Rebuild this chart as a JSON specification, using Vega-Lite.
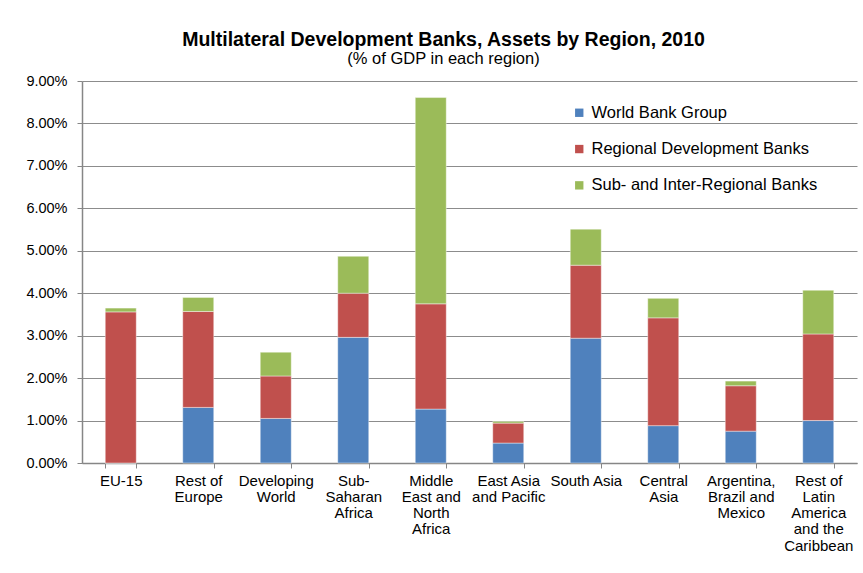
{
  "$schema": "https://vega.github.io/schema/vega-lite/v6.json",
  "autosize": "none",
  "width": 775,
  "height": 382,
  "padding": {"left": 82, "top": 81, "right": 6, "bottom": 110},
  "background": "white",
  "title": {
    "text": "Multilateral Development Banks, Assets by Region, 2010",
    "subtitle": "(% of GDP in each region)",
    "anchor": "middle",
    "dx": -26,
    "offset": 5,
    "font": "Liberation Sans",
    "fontSize": 19.5,
    "fontWeight": "bold",
    "color": "#000000",
    "subtitleFont": "Liberation Sans",
    "subtitleFontSize": 16.5,
    "subtitleColor": "#000000",
    "subtitlePadding": 0
  },
  "data": {
    "values": [
      {"region": "EU-15", "bank": "World Bank Group", "k": 1, "value": 0.0},
      {"region": "EU-15", "bank": "Regional Development Banks", "k": 2, "value": 0.0356},
      {"region": "EU-15", "bank": "Sub- and Inter-Regional Banks", "k": 3, "value": 0.0009},
      {"region": "Rest of\nEurope", "bank": "World Bank Group", "k": 1, "value": 0.0131},
      {"region": "Rest of\nEurope", "bank": "Regional Development Banks", "k": 2, "value": 0.0226},
      {"region": "Rest of\nEurope", "bank": "Sub- and Inter-Regional Banks", "k": 3, "value": 0.0033},
      {"region": "Developing\nWorld", "bank": "World Bank Group", "k": 1, "value": 0.0105},
      {"region": "Developing\nWorld", "bank": "Regional Development Banks", "k": 2, "value": 0.0100},
      {"region": "Developing\nWorld", "bank": "Sub- and Inter-Regional Banks", "k": 3, "value": 0.0056},
      {"region": "Sub-\nSaharan\nAfrica", "bank": "World Bank Group", "k": 1, "value": 0.0296},
      {"region": "Sub-\nSaharan\nAfrica", "bank": "Regional Development Banks", "k": 2, "value": 0.0104},
      {"region": "Sub-\nSaharan\nAfrica", "bank": "Sub- and Inter-Regional Banks", "k": 3, "value": 0.0087},
      {"region": "Middle\nEast and\nNorth\nAfrica", "bank": "World Bank Group", "k": 1, "value": 0.0127},
      {"region": "Middle\nEast and\nNorth\nAfrica", "bank": "Regional Development Banks", "k": 2, "value": 0.0248},
      {"region": "Middle\nEast and\nNorth\nAfrica", "bank": "Sub- and Inter-Regional Banks", "k": 3, "value": 0.0486},
      {"region": "East Asia\nand Pacific", "bank": "World Bank Group", "k": 1, "value": 0.0047},
      {"region": "East Asia\nand Pacific", "bank": "Regional Development Banks", "k": 2, "value": 0.0047},
      {"region": "East Asia\nand Pacific", "bank": "Sub- and Inter-Regional Banks", "k": 3, "value": 0.0004},
      {"region": "South Asia", "bank": "World Bank Group", "k": 1, "value": 0.0294},
      {"region": "South Asia", "bank": "Regional Development Banks", "k": 2, "value": 0.0172},
      {"region": "South Asia", "bank": "Sub- and Inter-Regional Banks", "k": 3, "value": 0.0085},
      {"region": "Central\nAsia", "bank": "World Bank Group", "k": 1, "value": 0.0088},
      {"region": "Central\nAsia", "bank": "Regional Development Banks", "k": 2, "value": 0.0254},
      {"region": "Central\nAsia", "bank": "Sub- and Inter-Regional Banks", "k": 3, "value": 0.0046},
      {"region": "Argentina,\nBrazil and\nMexico", "bank": "World Bank Group", "k": 1, "value": 0.0075},
      {"region": "Argentina,\nBrazil and\nMexico", "bank": "Regional Development Banks", "k": 2, "value": 0.0107},
      {"region": "Argentina,\nBrazil and\nMexico", "bank": "Sub- and Inter-Regional Banks", "k": 3, "value": 0.0011},
      {"region": "Rest of\nLatin\nAmerica\nand the\nCaribbean", "bank": "World Bank Group", "k": 1, "value": 0.0100},
      {"region": "Rest of\nLatin\nAmerica\nand the\nCaribbean", "bank": "Regional Development Banks", "k": 2, "value": 0.0204},
      {"region": "Rest of\nLatin\nAmerica\nand the\nCaribbean", "bank": "Sub- and Inter-Regional Banks", "k": 3, "value": 0.0103}
    ]
  },
  "mark": {"type": "bar", "stroke": "#ffffff", "strokeWidth": 0.7, "strokeOpacity": 0.6},
  "encoding": {
    "x": {
      "field": "region",
      "type": "nominal",
      "sort": null,
      "scale": {"paddingInner": 0.6, "paddingOuter": 0.3},
      "axis": {
        "title": null,
        "labelAngle": 0,
        "labelExpr": "datum.value ? split(datum.value, '\\n') : ''",
        "labelFont": "Liberation Sans",
        "labelFontSize": 15,
        "labelColor": "#000000",
        "labelLineHeight": 16.3,
        "labelPadding": 5,
        "labelBaseline": "top",
        "tickBand": "extent",
        "tickSize": 5,
        "tickColor": "#868686",
        "domainColor": "#868686",
        "domainWidth": 1.5,
        "grid": false
      }
    },
    "y": {
      "field": "value",
      "type": "quantitative",
      "stack": "zero",
      "scale": {"domain": [0, 0.09], "nice": false},
      "axis": {
        "title": null,
        "values": [0, 0.01, 0.02, 0.03, 0.04, 0.05, 0.06, 0.07, 0.08, 0.09],
        "format": ".2%",
        "labelFont": "Liberation Sans",
        "labelFontSize": 14.5,
        "labelColor": "#000000",
        "labelPadding": 10,
        "tickSize": 5,
        "tickColor": "#868686",
        "domainColor": "#868686",
        "domainWidth": 1.5,
        "grid": true,
        "gridColor": "#8c8c8c",
        "gridWidth": 1
      }
    },
    "color": {
      "field": "bank",
      "type": "nominal",
      "scale": {
        "domain": ["World Bank Group", "Regional Development Banks", "Sub- and Inter-Regional Banks"],
        "range": ["#4F81BD", "#C0504D", "#9BBB59"]
      },
      "legend": {
        "title": null,
        "orient": "none",
        "legendX": 489,
        "legendY": 23.5,
        "padding": 0,
        "symbolType": "square",
        "symbolSize": 70,
        "symbolStrokeWidth": 0,
        "labelFont": "Liberation Sans",
        "labelFontSize": 16.5,
        "labelColor": "#000000",
        "labelOffset": 4,
        "labelLimit": 400,
        "rowPadding": 19.3
      }
    },
    "order": {"field": "k", "type": "quantitative"}
  },
  "config": {
    "view": {"stroke": null}
  }
}
